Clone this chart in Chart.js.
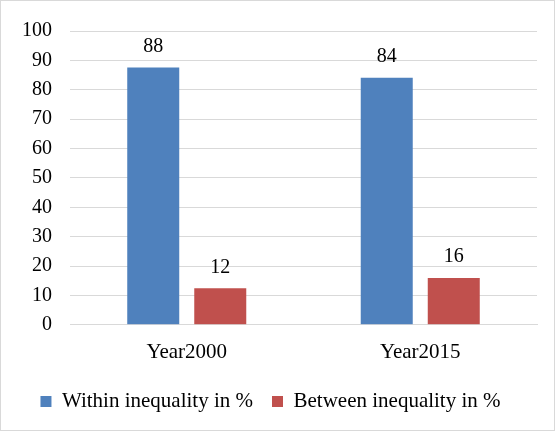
<!DOCTYPE html>
<html>
<head>
  <meta charset="UTF-8">
  <title>Within vs Between inequality</title>
  <script src="https://cdn.jsdelivr.net/npm/chart.js"></script>
  <style>
    html, body { margin: 0; padding: 0; background: #fff; }
    #wrap { position: relative; width: 553px; height: 429px; border: 1px solid #d9d9d9; }
  </style>
</head>
<body>
  <div id="wrap"><canvas id="barChart"></canvas></div>

  <script>
    const categories = ['Year2000', 'Year2015'];
    const withinShare = [87.6, 84.1];
    const betweenShare = [12.4, 15.9];
    const seriesNames = ['Within inequality in %', 'Between inequality in %'];
    const yTicks = [0, 10, 20, 30, 40, 50, 60, 70, 80, 90, 100];

    const family = "'Liberation Serif', 'Times New Roman', serif";
    const font = { family: family, size: 20 };
    const bigFont = { family: family, size: 21 };

    // value labels above each bar
    const valueLabels = {
      id: 'valueLabels',
      afterDatasetsDraw(chart) {
        const ctx = chart.ctx;
        ctx.save();
        ctx.font = font.size + 'px ' + font.family;
        ctx.fillStyle = '#000';
        ctx.textAlign = 'center';
        ctx.textBaseline = 'bottom';
        chart.data.datasets.forEach((ds, i) => {
          chart.getDatasetMeta(i).data.forEach((bar, j) => {
            ctx.fillText(Math.round(ds.data[j]), bar.x, bar.y - 11);
          });
        });
        ctx.restore();
      }
    };

    new Chart(document.getElementById('barChart').getContext('2d'), {
      type: 'bar',
      data: {
        labels: categories,
        datasets: [
          { label: seriesNames[0], data: withinShare, backgroundColor: '#4f81bd' },
          { label: seriesNames[1], data: betweenShare, backgroundColor: '#c0504d' }
        ]
      },
      options: {
        responsive: true,
        maintainAspectRatio: false,
        animation: false,
        categoryPercentage: 0.574,
        barPercentage: 0.776,
        layout: { padding: { left: 3, right: 17, top: 25, bottom: 8 } },
        plugins: {
          tooltip: { enabled: false },
          legend: {
            position: 'bottom',
            labels: {
              font: bigFont,
              color: '#000',
              boxWidth: 11,
              boxHeight: 11,
              padding: 19
            }
          }
        },
        scales: {
          x: {
            grid: { display: false },
            border: { color: '#d9d9d9' },
            ticks: { font: bigFont, color: '#000', padding: 7 }
          },
          y: {
            min: 0,
            max: 100,
            afterBuildTicks(axis) { axis.ticks = yTicks.map(v => ({ value: v })); },
            grid: { color: '#d9d9d9', drawTicks: false },
            border: { display: false },
            ticks: { font: font, color: '#000', padding: 18 }
          }
        }
      },
      plugins: [valueLabels]
    });
  </script>
</body>
</html>
